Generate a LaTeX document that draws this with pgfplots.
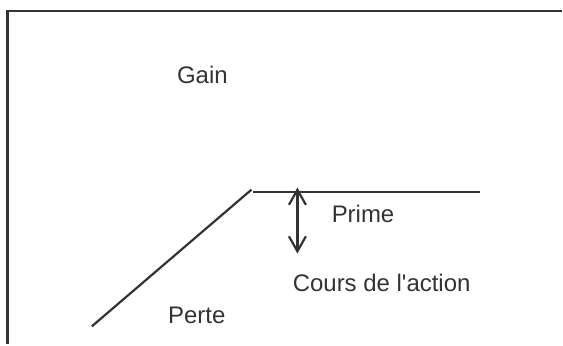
\documentclass[border=0pt]{standalone}
\usepackage{fontspec}
\setmainfont{Liberation Sans}
\usepackage{pgfplots}
\pgfplotsset{compat=1.18}
\usetikzlibrary{arrows.meta}
\definecolor{ink}{HTML}{333333}

\begin{document}
\begin{tikzpicture}
\begin{axis}[
    scale only axis, width=281.5pt, height=172.5pt,
    xmin=0, xmax=563, ymin=0, ymax=345,
    hide axis, clip=false,
    every axis plot post/.append style={ink, line width=1.1pt, mark=none},
    nodes={font=\fontsize{12}{14}\selectfont, text=ink, inner sep=0pt, anchor=base west},
]
    % frame: left and top edges only
    \addplot coordinates {(7.5,0) (7.5,334) (563,334)};
    % payoff of the sold put
    \addplot coordinates {(92,18) (252,155)};
    \addplot coordinates {(253,152.5) (481,152.5)};
    % premium arrow
    \addplot[{Straight Barb[length=7.5pt,width=8.5pt]}-{Straight Barb[length=7.5pt,width=8.5pt]}] coordinates {(298,157) (298,91)};

    \node at (axis cs:177,261) {Gain};
    \node at (axis cs:332,122) {Prime};
    \node at (axis cs:293,53) {Cours de l\textquotesingle action};
    \node at (axis cs:168,21) {Perte};
    \path (axis cs:0,0) rectangle (axis cs:563,345);
\end{axis}
\end{tikzpicture}
\end{document}
